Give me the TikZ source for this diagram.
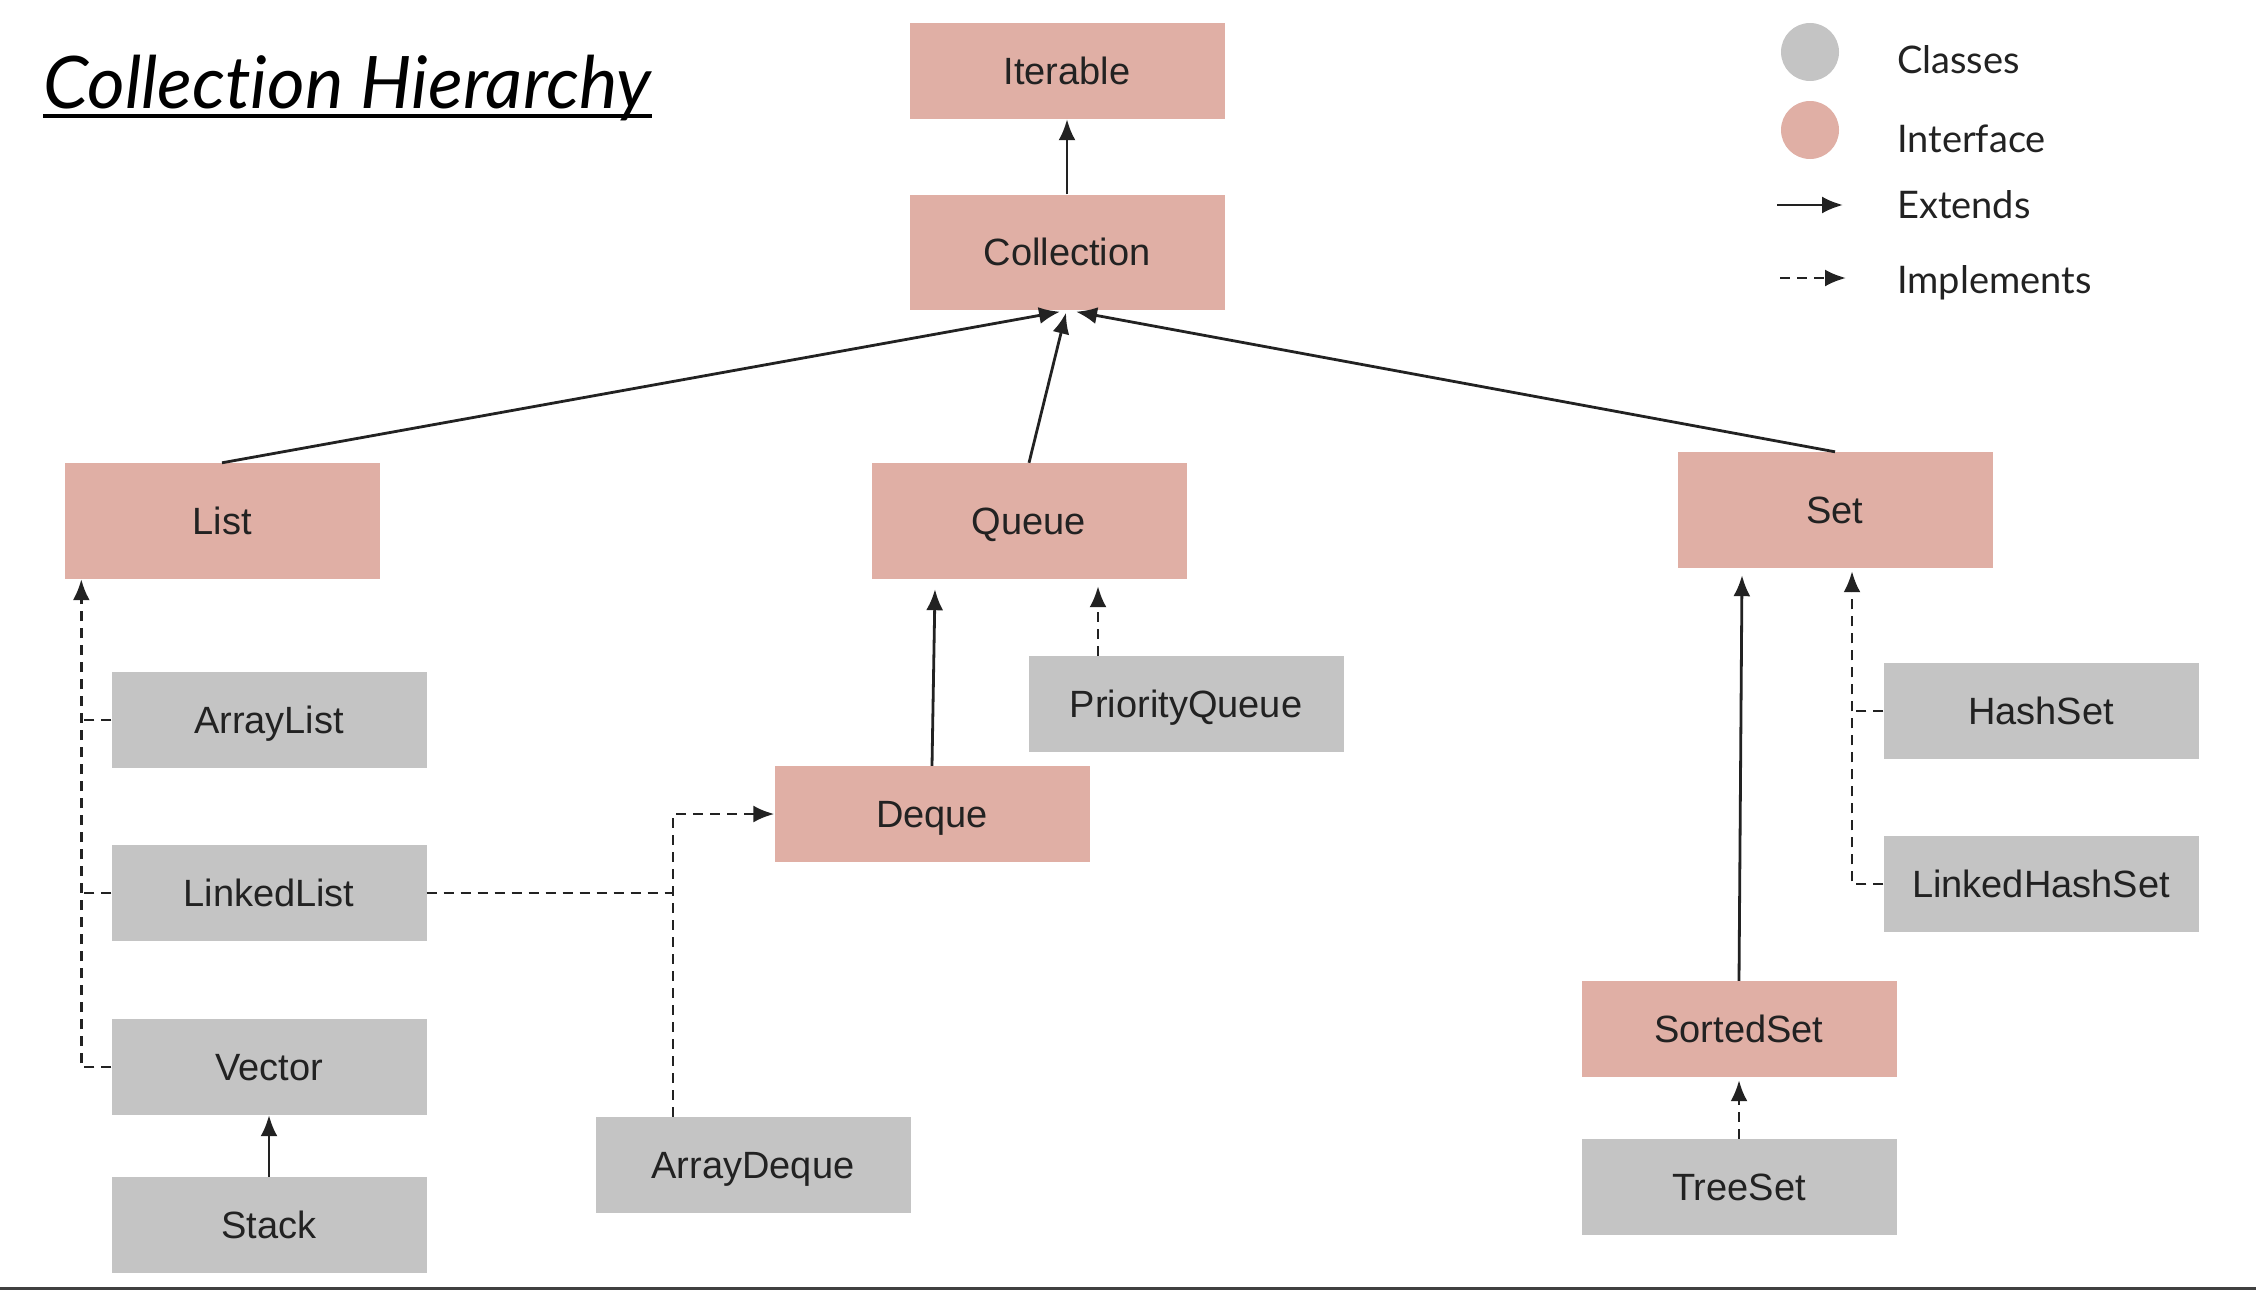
\documentclass[tikz,border=0pt]{standalone}
\usepackage{fontspec}
\setmainfont{Liberation Sans}
\newfontfamily\latofont[Ligatures=NoCommon]{Lato}
\usetikzlibrary{arrows.meta,calc}
\definecolor{ifc}{HTML}{E0AFA5}
\definecolor{cls}{HTML}{C4C4C4}
\definecolor{ink}{HTML}{222222}
\tikzset{
  box/.style={rectangle,inner sep=0pt,minimum width=315pt,text=ink,
    text height=27pt,text depth=0pt,
    font=\fontsize{38}{44}\selectfont},
  ifbox/.style={box,fill=ifc},
  clbox/.style={box,fill=cls},
  tall/.style={minimum height=116pt},
  short/.style={minimum height=96pt},
  ext/.style={draw=ink,line width=2.8pt,-{Latex[length=21pt,width=17pt]}},
  dsh/.style={draw=ink,line width=2.8pt,dash pattern=on 10pt off 7pt},
  impl/.style={dsh,-{Latex[length=21pt,width=17pt]}},
  legtext/.style={anchor=base west,inner sep=0pt,text=ink,
    font=\latofont\fontsize{38}{44}\selectfont}
}
\begin{document}
\begin{tikzpicture}[x=1pt,y=-1pt]
\useasboundingbox[fill=white] (0,0) rectangle (2256,1290);
% title
\node[anchor=base west,inner sep=0pt,text=black,
  font=\latofont\itshape\fontsize{72.5}{82}\selectfont] (title) at (43,108) {Collection Hierarchy};
\draw[line width=4pt,black] (title.base west) ++(0,8) coordinate (ul1) -- (ul1 -| title.base east);
% legend
\node[circle,fill=cls,minimum size=58pt,inner sep=0pt] (lc) at (1810,52) {};
\node[circle,fill=ifc,minimum size=58pt,inner sep=0pt] (li) at (1810,130) {};
\coordinate (le1) at (1777,205); \coordinate (le2) at (1843,205);
\coordinate (lm1) at (1780,278); \coordinate (lm2) at (1846,278);
\draw[ext] (le1) -- (le2);
\draw[impl] (lm1) -- (lm2);
\node[legtext] (tc) at (1897,74) {Classes};
\node[legtext] (ti) at (1897,152) {Interface};
\node[legtext] (te) at (1897,218) {Extends};
\node[legtext] (tm) at (1897,293) {Implements};
% boxes
\node[ifbox,short] (Iterable) at (1067,71) {Iterable};
\node[ifbox,tall,minimum height=115pt] (Collection) at (1067,252) {Collection};
\node[ifbox,tall] (List) at (222,521) {List};
\node[ifbox,tall] (Queue) at (1029,521) {Queue};
\node[ifbox,tall] (Set) at (1835,510) {Set};
\node[clbox,short] (ArrayList) at (269,720) {ArrayList};
\node[clbox,short] (LinkedList) at (269,893) {LinkedList};
\node[clbox,short] (Vector) at (269,1067) {Vector};
\node[clbox,short] (Stack) at (269,1225) {Stack};
\node[clbox,short] (PQ) at (1186,704) {PriorityQueue};
\node[ifbox,short] (Deque) at (932,814) {Deque};
\node[clbox,short] (ArrayDeque) at (753,1165) {ArrayDeque};
\node[clbox,short] (HashSet) at (2041,711) {HashSet};
\node[clbox,short] (LHS) at (2041,884) {LinkedHashSet};
\node[ifbox,short] (SortedSet) at (1739,1029) {SortedSet};
\node[clbox,short] (TreeSet) at (1739,1187) {TreeSet};
% extends
\draw[ext] (Collection.north) -- (Iterable.south);
\draw[ext] (List.north) -- ($(Collection.south)+(-7,2)$);
\draw[ext] (Queue.north) -- ($(Collection.south)+(-1,3)$);
\draw[ext] (Set.north) -- ($(Collection.south)+(9,2)$);
\draw[ext] (Stack.north) -- (Vector.south);
\draw[ext] (Deque.north) -- ($(Queue.south)+(-94,10)$);
\draw[ext] (SortedSet.north) -- ($(Set.south)+(-93,7)$);
% implements
\coordinate (ltrunk) at ($(List.south west)+(17,0)$);
\draw[impl] (Vector.west) -| (ltrunk);
\draw[dsh] (ArrayList.west) -- (ArrayList.west -| ltrunk);
\draw[dsh] (LinkedList.west) -- (LinkedList.west -| ltrunk);
\coordinate (adq) at ($(ArrayDeque.north)+(-80,0)$);
\draw[impl] (adq) |- (Deque.west);
\draw[dsh] (LinkedList.east) -- (LinkedList.east -| adq);
\draw[impl] ($(PQ.north)+(-88,0)$) -- ($(Queue.south)+(69,7)$);
\coordinate (strunk) at ($(Set.south)+(17,3)$);
\draw[impl] (LHS.west) -| (strunk);
\draw[dsh] (HashSet.west) -- (HashSet.west -| strunk);
\draw[impl] (TreeSet.north) -- ($(SortedSet.south)+(0,3)$);
% bottom rule
\coordinate (b1) at (0,1288); \coordinate (b2) at (2256,1288);
\draw[line width=3pt,draw=black!75] (b1) -- (b2);
\end{tikzpicture}
\end{document}
